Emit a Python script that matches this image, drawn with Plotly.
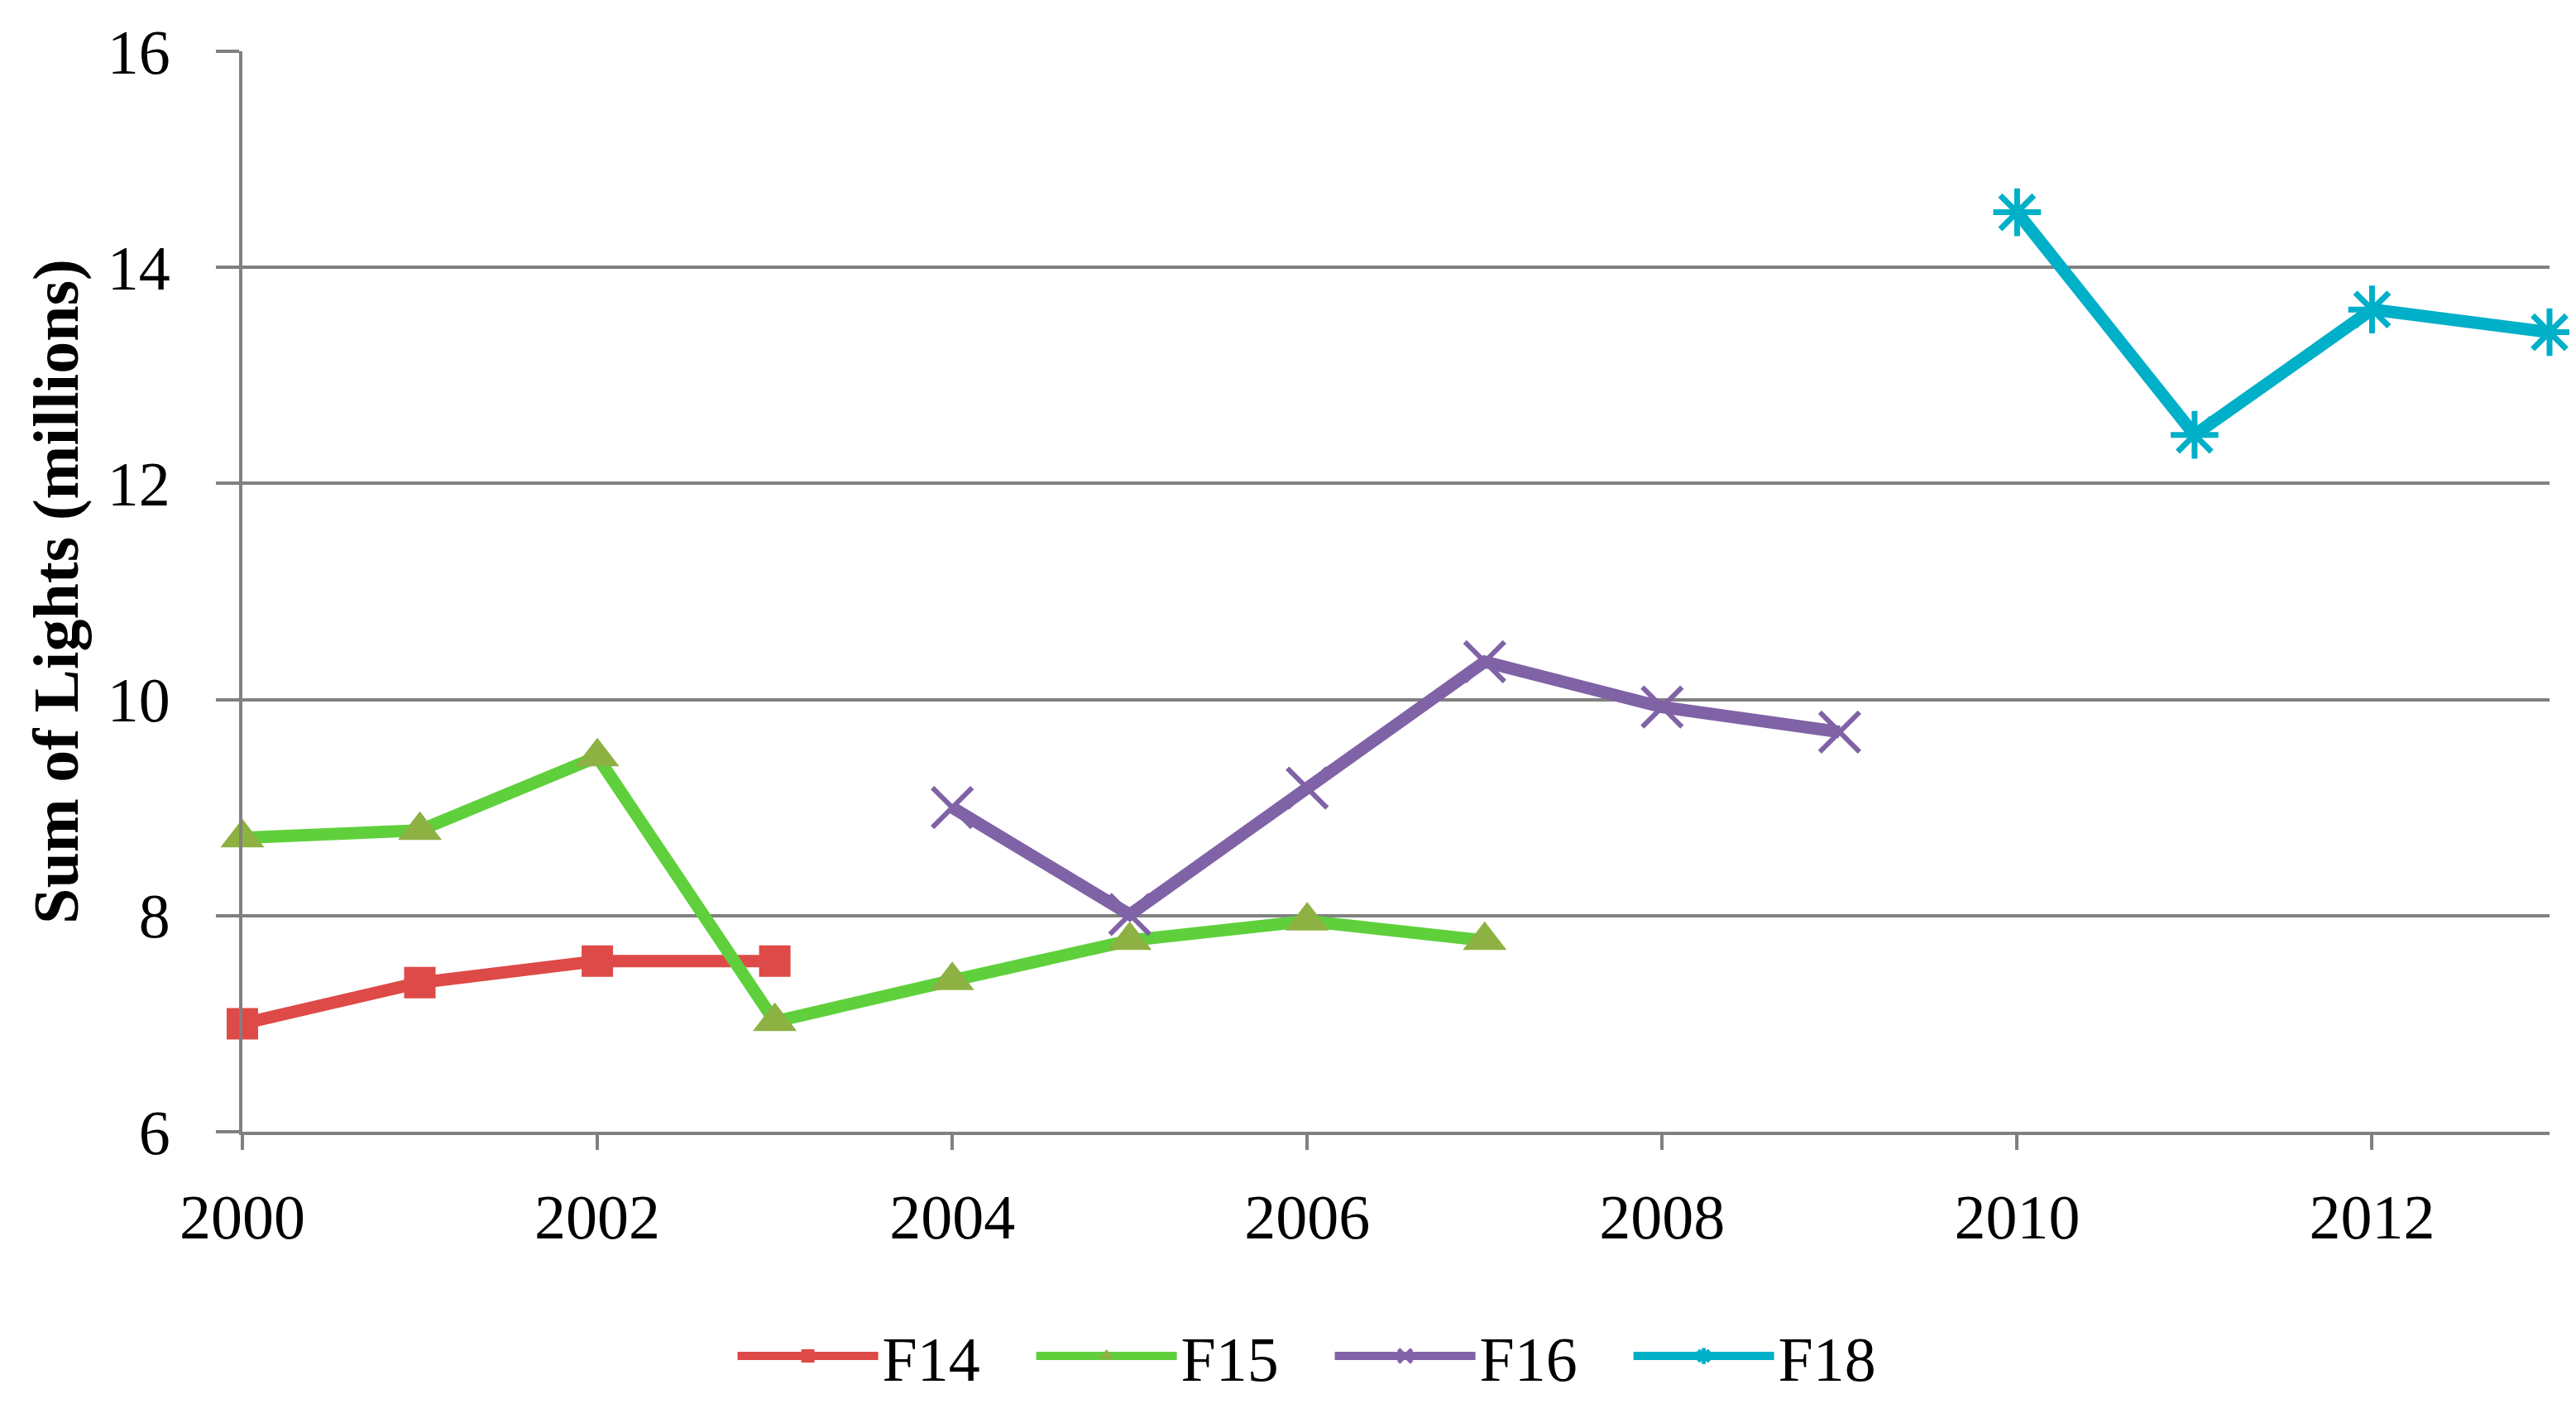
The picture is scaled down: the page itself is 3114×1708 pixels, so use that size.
import plotly.graph_objects as go

# Sum of lights (millions) per satellite
years_f14 = [2000, 2001, 2002, 2003]
lights_f14 = [7.0, 7.38, 7.58, 7.58]

years_f15 = [2000, 2001, 2002, 2003, 2004, 2005, 2006, 2007]
lights_f15 = [8.72, 8.79, 9.47, 7.02, 7.40, 7.77, 7.95, 7.77]

years_f16 = [2004, 2005, 2006, 2007, 2008, 2009]
lights_f16 = [9.00, 8.01, 9.18, 10.35, 9.93, 9.70]

years_f18 = [2010, 2011, 2012, 2013]
lights_f18 = [14.51, 12.45, 13.61, 13.40]

x_ticks = [2000, 2002, 2004, 2006, 2008, 2010, 2012]
y_ticks = [6, 8, 10, 12, 14, 16]

FONT = "Liberation Serif"
GRID = "#808080"

fig = go.Figure()

fig.add_trace(go.Scatter(
    x=years_f14, y=lights_f14, mode="lines+markers", name="F14",
    line=dict(color="#DD4A47", width=15),
    marker=dict(symbol="square", size=38, color="#DD4A47"),
    cliponaxis=False
))
fig.add_trace(go.Scatter(
    x=years_f15, y=lights_f15, mode="lines+markers", name="F15",
    line=dict(color="#5FD03C", width=15),
    marker=dict(symbol="triangle-up", size=46, color="#8DB142"),
    cliponaxis=False
))
fig.add_trace(go.Scatter(
    x=years_f16, y=lights_f16, mode="lines+markers", name="F16",
    line=dict(color="#8062A6", width=15),
    marker=dict(symbol="x-thin-open", size=48, line=dict(color="#8062A6", width=6)),
    cliponaxis=False
))
fig.add_trace(go.Scatter(
    x=years_f18, y=lights_f18, mode="lines+markers", name="F18",
    line=dict(color="#00AFC8", width=15),
    marker=dict(symbol="asterisk-open", size=48, line=dict(color="#00AFC8", width=7)),
    cliponaxis=False
))

fig.update_layout(
    width=3114, height=1708,
    paper_bgcolor="white", plot_bgcolor="white",
    font=dict(family=FONT, size=76, color="black"),
    margin=dict(l=285, r=40, t=54, b=348),
    showlegend=True,
    legend=dict(
        orientation="h", xref="container", x=0.514, xanchor="center",
        yref="container", y=0.045, yanchor="middle",
        font=dict(family=FONT, size=76, color="black"),
        itemwidth=170, entrywidth=176, entrywidthmode="pixels",
        bgcolor="rgba(0,0,0,0)"
    ),
    xaxis=dict(
        range=[2000, 2013], tickmode="array", tickvals=x_ticks,
        showgrid=False, zeroline=False,
        showline=True, linecolor=GRID, linewidth=4,
        ticks="outside", ticklen=18, tickwidth=4, tickcolor=GRID,
        ticklabelstandoff=16,
        tickfont=dict(family=FONT, size=76, color="black")
    ),
    yaxis=dict(
        range=[6, 16], tickmode="array", tickvals=y_ticks,
        showgrid=True, gridcolor=GRID, gridwidth=4, zeroline=False,
        showline=True, linecolor=GRID, linewidth=4,
        ticks="outside", ticklen=28, tickwidth=4, tickcolor=GRID,
        ticklabelstandoff=40,
        tickfont=dict(family=FONT, size=76, color="black"),
        title=dict(text="<b>Sum of Lights (millions)</b>", standoff=10,
                   font=dict(family=FONT, size=78, color="black"))
    )
)

fig.write_html("out.html")
